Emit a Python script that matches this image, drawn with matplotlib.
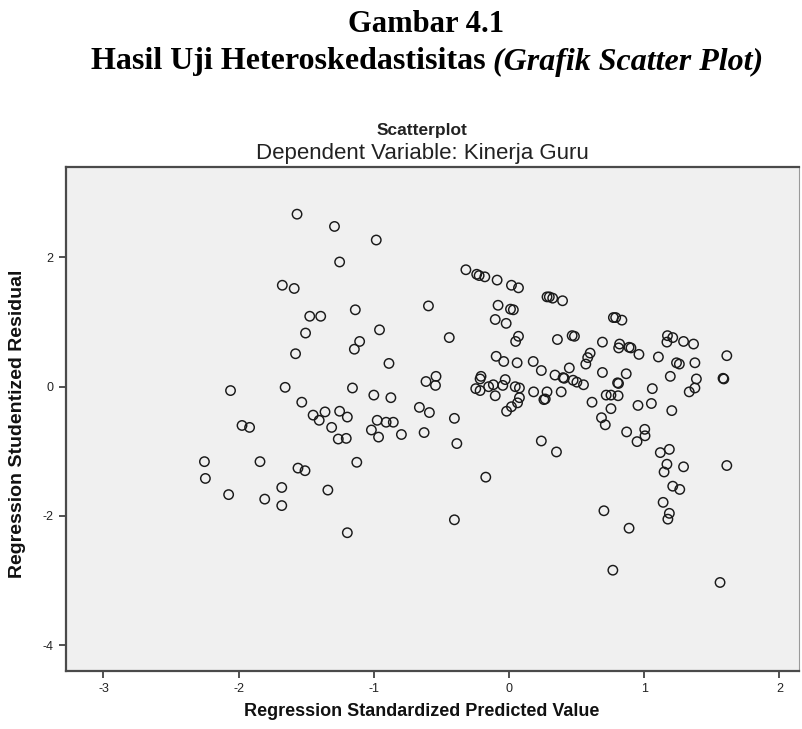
import matplotlib
matplotlib.use("Agg")
import matplotlib.pyplot as plt
import numpy as np

# Regression Standardized Predicted Value (x) and Studentized Residual (y)
pred = [
    -1.568, -1.291, -0.982, -1.253, -1.677, -1.589, -0.319, -0.239, -0.221, -0.179,
    -0.088, 0.018, 0.070, 0.281, 0.298, 0.323, 0.396, -0.596, -0.081, 0.011,
    0.032, -1.137, -1.474, -1.393, -0.102, -0.021, 0.772, 0.789, 0.835, -0.958,
    -1.505, -1.105, -1.144, -0.442, 0.070, 0.049, 0.358, 0.467, 0.484, 0.691,
    0.818, 0.811, 0.888, 0.902, 0.961, 1.172, 1.211, 1.168, 1.291, 1.365,
    1.611, 1.105, 0.600, 0.582, 0.568, -1.579, -0.888, -0.095, -0.039, 0.060,
    0.179, 0.239, 0.446, 0.340, 0.400, 0.408, 0.474, 0.502, 0.551, 0.691,
    0.867, 0.803, 0.810, 1.193, 1.239, 1.260, 1.375, 1.386, 1.375, 1.333,
    1.583, 1.589, 1.060, 0.281, 0.386, 0.258, 0.268, 0.719, 0.754, 0.807,
    0.614, 0.754, 0.684, 0.712, 0.954, 1.053, 1.204, 0.870, 1.004, 1.006,
    0.947, 0.239, 0.351, 1.119, 1.186, 1.168, 1.147, 1.291, 1.611, 1.211,
    1.263, 1.140, 1.186, 1.175, 0.702, 0.888, 0.768, 1.561, -2.060, -1.656,
    -1.533, -1.158, -1.000, -0.874, -0.207, -0.214, -0.246, -0.214, -0.151, -0.116,
    -0.028, -0.046, 0.046, 0.077, -0.102, 0.077, 0.063, 0.018, -0.018, -0.614,
    -0.540, -0.544, 0.182, -1.449, -1.404, -1.361, -1.253, -1.196, -1.312, -1.263,
    -1.204, -1.975, -1.919, -0.975, -0.909, -0.856, -1.018, -0.965, -0.796, -0.663,
    -0.589, -0.628, -0.404, -0.386, -0.172, -0.404, -1.196, -1.126, -1.561, -1.509,
    -1.340, -2.253, -2.246, -1.842, -2.074, -1.807, -1.681, -1.681,
]
resid = [
    2.67, 2.48, 2.27, 1.93, 1.57, 1.52, 1.81, 1.74, 1.72, 1.70,
    1.65, 1.57, 1.53, 1.39, 1.39, 1.37, 1.33, 1.25, 1.26, 1.20,
    1.19, 1.19, 1.09, 1.09, 1.04, 0.98, 1.07, 1.07, 1.03, 0.88,
    0.83, 0.70, 0.58, 0.76, 0.78, 0.70, 0.73, 0.79, 0.78, 0.69,
    0.66, 0.60, 0.61, 0.60, 0.50, 0.79, 0.76, 0.69, 0.70, 0.66,
    0.48, 0.46, 0.52, 0.45, 0.35, 0.51, 0.36, 0.47, 0.39, 0.37,
    0.39, 0.25, 0.29, 0.18, 0.14, 0.13, 0.10, 0.07, 0.03, 0.22,
    0.20, 0.06, 0.05, 0.16, 0.37, 0.35, 0.37, 0.12, -0.02, -0.08,
    0.13, 0.12, -0.03, -0.08, -0.08, -0.20, -0.19, -0.13, -0.13, -0.14,
    -0.24, -0.34, -0.48, -0.59, -0.29, -0.26, -0.37, -0.70, -0.66, -0.76,
    -0.85, -0.84, -1.01, -1.02, -0.97, -1.20, -1.32, -1.24, -1.22, -1.54,
    -1.59, -1.79, -1.96, -2.05, -1.92, -2.19, -2.84, -3.03, -0.06, -0.01,
    -0.24, -0.02, -0.13, -0.17, 0.16, 0.12, -0.03, -0.06, 0.00, 0.03,
    0.11, 0.02, 0.00, -0.02, -0.14, -0.17, -0.25, -0.31, -0.38, 0.08,
    0.16, 0.02, -0.08, -0.44, -0.52, -0.39, -0.38, -0.47, -0.63, -0.81,
    -0.80, -0.60, -0.63, -0.52, -0.55, -0.55, -0.67, -0.78, -0.74, -0.32,
    -0.40, -0.71, -0.49, -0.88, -1.40, -2.06, -2.26, -1.17, -1.26, -1.30,
    -1.60, -1.16, -1.42, -1.16, -1.67, -1.74, -1.56, -1.84,
]

x_ticks = [-3, -2, -1, 0, 1, 2]
y_ticks = [-4, -2, 0, 2]

W, H = 803, 729
fig = plt.figure(figsize=(W / 100, H / 100), dpi=100)
fig.patch.set_facecolor("white")

# axes placement in pixels
ax_l, ax_r, ax_t, ax_b = 66, 799, 167, 671
ax = fig.add_axes([ax_l / W, 1 - ax_b / H, (ax_r - ax_l) / W, (ax_b - ax_t) / H])
ax.set_facecolor("#f0f0f0")

ax.scatter(pred, resid, s=46, facecolors="none", edgecolors="#1a1a1a", linewidths=1.05, zorder=3)

ax.set_xlim(-3.277, 2.145)
ax.set_ylim(-4.40, 3.40)
ax.set_xticks(x_ticks)
ax.set_yticks(y_ticks)
ax.set_xticklabels([str(v) for v in x_ticks])
ax.set_yticklabels([str(v) for v in y_ticks])

for side in ["top", "left", "bottom"]:
    ax.spines[side].set_color("#4a4a4a")
    ax.spines[side].set_linewidth(1.6)
ax.spines["right"].set_color("#9a9a9a")
ax.spines["right"].set_linewidth(0.8)

ax.tick_params(direction="out", length=5, width=1.2, color="#333333",
               labelsize=9, labelcolor="#222222", pad=4)
for lbl in ax.get_xticklabels() + ax.get_yticklabels():
    lbl.set_family("Liberation Sans")

lab_font = dict(fontweight="bold", family="Liberation Sans", color="#111111")
fig.text(422 / W, 1 - 712 / H, "Regression Standardized Predicted Value",
         ha="center", va="center", fontsize=13, **lab_font)
fig.text(18 / W, 1 - 424 / H, "Regression Studentized Residual", rotation=90,
         ha="center", va="center", fontsize=14, **lab_font)

cx = 422 / W
fig.text(cx, 1 - 131 / H, "Scatterplot", ha="center", va="center", fontsize=12.5,
         fontweight="bold", family="Liberation Sans", color="#222222")
fig.text(cx, 1 - 153 / H, "Dependent Variable: Kinerja Guru", ha="center", va="center",
         fontsize=16, family="Liberation Sans", color="#222222")

fig.text(426 / W, 1 - 24 / H, "Gambar 4.1", ha="center", va="center", fontsize=22,
         fontweight="bold", family="Liberation Serif", color="black")

# second title line: bold + bold italic part, centred as a whole
fig.canvas.draw()
renderer = fig.canvas.get_renderer()
part1 = "Hasil Uji Heteroskedastisitas "
part2 = "(Grafik Scatter Plot)"
t1 = fig.text(0, 1 - 62 / H, part1, ha="left", va="center", fontsize=23,
              fontweight="bold", family="Liberation Serif", color="black")
t2 = fig.text(0, 1 - 62 / H, part2, ha="left", va="center", fontsize=23,
              fontweight="bold", style="italic", family="Liberation Serif", color="black")
w1 = t1.get_window_extent(renderer).width
w2 = t2.get_window_extent(renderer).width
total = w1 + w2
start = 427 - total / 2
t1.set_x(start / W)
t2.set_x((start + w1) / W)

fig.savefig("out.png", dpi=100)
